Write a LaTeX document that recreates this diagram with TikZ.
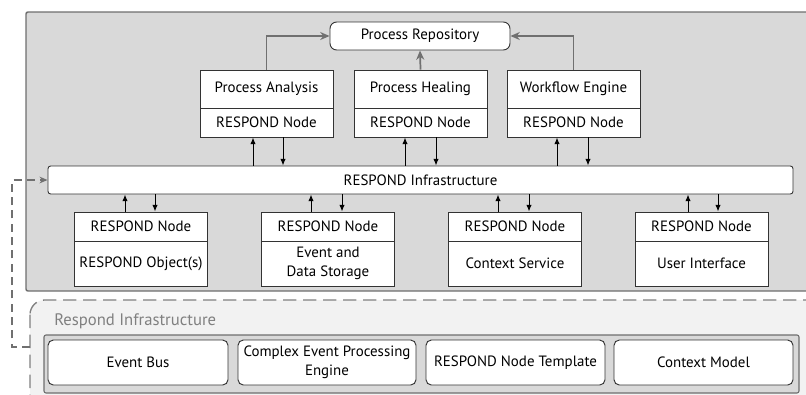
\documentclass[tikz,border=0pt]{standalone}
\usepackage{fontspec}
\setmainfont{PT Sans}
\usetikzlibrary{arrows.meta,positioning}
\definecolor{outerfill}{HTML}{D9D9D9}
\definecolor{outerline}{HTML}{6E6E6E}
\definecolor{dashfill}{HTML}{F2F2F2}
\definecolor{dashline}{HTML}{808080}
\definecolor{garrow}{HTML}{707070}
\definecolor{boxline}{HTML}{333333}
\begin{document}
\begin{tikzpicture}[x=0.75pt,y=-0.75pt,
  every node/.style={font=\fontsize{11.2}{14}\selectfont, inner sep=0pt, align=center},
  partbox/.style={draw=boxline, fill=white, line width=0.7pt, minimum width=99.75pt},
  topA/.style={partbox, minimum height=28.5pt},
  topB/.style={partbox, minimum height=21.75pt},
  botA/.style={partbox, minimum height=21.75pt},
  botB/.style={partbox, minimum height=33.75pt},
  roundbox/.style={draw=boxline, fill=white, line width=0.7pt, rounded corners=4pt},
  blackarrow/.style={-{Latex[length=5pt,width=4pt]}, line width=0.7pt, draw=black},
  grayarrow/.style={-{Stealth[length=7pt,width=6pt]}, line width=1.3pt, draw=garrow},
  dasharrow/.style={-{Stealth[length=6pt,width=5pt]}, line width=1pt, draw=garrow, dash pattern=on 6pt off 4pt}
]
\useasboundingbox (0,0) rectangle (806,394);
% outer grey frame
\path[fill=outerfill, draw=outerline, line width=1.1pt, rounded corners=1.5pt] (26,12) rectangle (812,291);
% dashed bottom area
\path[fill=dashfill, draw=dashline, line width=1pt, dash pattern=on 10pt off 5pt, rounded corners=11pt] (30,300) rectangle (830,420);
\node[anchor=west, text=dashline, font=\fontsize{12.5}{14}\selectfont] (reslabel) at (54,321) {Respond Infrastructure};
\path[fill=outerfill, draw=outerline, line width=0.8pt, rounded corners=1.5pt] (44,335) rectangle (799,393);

% repository
\node[roundbox, minimum width=135pt, minimum height=21pt, rounded corners=5pt] (repo) at (420,36) {Process Repository};

% top nodes
\node[topA] (pat) at (266.5,89) {Process Analysis};
\node[topB] (pab) at (266.5,122.5) {RESPOND Node};
\node[topA] (pht) at (420.5,89) {Process Healing};
\node[topB] (phb) at (420.5,122.5) {RESPOND Node};
\node[topA] (wet) at (573.5,89) {Workflow Engine};
\node[topB] (web) at (573.5,122.5) {RESPOND Node};

% infrastructure bar
\node[draw=boxline, fill=white, line width=0.7pt, rounded corners=2pt, minimum width=558.75pt, minimum height=21pt] (infra) at (420.5,180) {RESPOND Infrastructure};

% bottom nodes
\node[botA] (n1a) at (141,226.5) {RESPOND Node};
\node[botB] (n1b) at (141,263.5) {RESPOND Object(s)};
\node[botA] (n2a) at (328,226.5) {RESPOND Node};
\node[botB] (n2b) at (328,263.5) {Event and\\Data Storage};
\node[botA] (n3a) at (515,226.5) {RESPOND Node};
\node[botB] (n3b) at (515,263.5) {Context Service};
\node[botA] (n4a) at (701.5,226.5) {RESPOND Node};
\node[botB] (n4b) at (701.5,263.5) {User Interface};

% bottom infrastructure components
\node[roundbox, minimum width=135pt, minimum height=33.75pt] (bus) at (138,362.5) {Event Bus};
\node[roundbox, minimum width=133.5pt, minimum height=33.75pt] (cep) at (327,362.5) {Complex Event Processing\\Engine};
\node[roundbox, minimum width=134.25pt, minimum height=33.75pt] (rnt) at (515.5,362.5) {RESPOND Node Template};
\node[roundbox, minimum width=134.25pt, minimum height=33.75pt] (cm) at (703.5,362.5) {Context Model};

% grey arrows to repository
\draw[grayarrow] (pat.north) |- (repo.west);
\draw[grayarrow] (pht.north) -- (repo.south);
\draw[grayarrow] (wet.north) |- (repo.east);

% black arrows top
\draw[blackarrow] (infra.north -| 253,0) -- (pab.south -| 253,0);
\draw[blackarrow] (pab.south -| 283,0) -- (infra.north -| 283,0);
\draw[blackarrow] (infra.north -| 405,0) -- (phb.south -| 405,0);
\draw[blackarrow] (phb.south -| 436,0) -- (infra.north -| 436,0);
\draw[blackarrow] (infra.north -| 557,0) -- (web.south -| 557,0);
\draw[blackarrow] (web.south -| 588,0) -- (infra.north -| 588,0);

% black arrows bottom
\draw[blackarrow] (n1a.north -| 125,0) -- (infra.south -| 125,0);
\draw[blackarrow] (infra.south -| 155,0) -- (n1a.north -| 155,0);
\draw[blackarrow] (n2a.north -| 311,0) -- (infra.south -| 311,0);
\draw[blackarrow] (infra.south -| 342,0) -- (n2a.north -| 342,0);
\draw[blackarrow] (n3a.north -| 498,0) -- (infra.south -| 498,0);
\draw[blackarrow] (infra.south -| 529,0) -- (n3a.north -| 529,0);
\draw[blackarrow] (n4a.north -| 688,0) -- (infra.south -| 688,0);
\draw[blackarrow] (infra.south -| 718,0) -- (n4a.north -| 718,0);

% dashed feedback connector
\coordinate (dstart) at (30,347);
\coordinate (dcorner) at (12,347);
\draw[dasharrow] (dstart) -- (dcorner) |- (infra.west);
\end{tikzpicture}
\end{document}
